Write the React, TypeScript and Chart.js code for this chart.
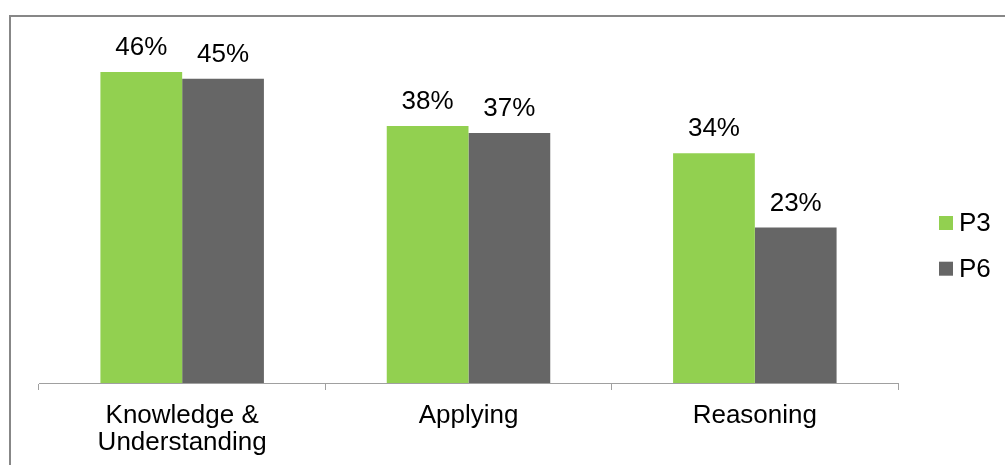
import React, { useEffect, useRef } from "react";
import { Chart, registerables } from "chart.js";

Chart.register(...registerables);

// Categories (multi-line labels are arrays of lines)
const categories: (string | string[])[] = [
  ["Knowledge &", "Understanding"],
  "Applying",
  "Reasoning",
];

// Series values, in percent
const seriesNames = ["P3", "P6"];
const p3Values = [46, 38, 34];
const p6Values = [45, 37, 23];

const seriesColors = ["#92D050", "#666666"];

const FONT_FAMILY = "'Liberation Sans', Arial, sans-serif";
const FONT_SIZE = 26;

// Value labels above each bar
const valueLabels = {
  id: "valueLabels",
  afterDatasetsDraw(chart: Chart) {
    const ctx = chart.ctx;
    ctx.save();
    ctx.font = `${FONT_SIZE}px ${FONT_FAMILY}`;
    ctx.fillStyle = "#000000";
    ctx.textAlign = "center";
    ctx.textBaseline = "alphabetic";
    chart.data.datasets.forEach((ds, di) => {
      const meta = chart.getDatasetMeta(di);
      meta.data.forEach((el: any, i: number) => {
        const v = ds.data[i] as number;
        ctx.fillText(`${v}%`, el.x, el.y - 17);
      });
    });
    ctx.restore();
  },
};

// Legend at the right: square swatch followed by the series name
const sideLegend = {
  id: "sideLegend",
  afterDraw(chart: Chart) {
    const ctx = chart.ctx;
    const boxX = 939;
    const box = 14;
    const firstY = 223;
    const step = 45.7;
    ctx.save();
    ctx.font = `${FONT_SIZE}px ${FONT_FAMILY}`;
    ctx.textAlign = "left";
    ctx.textBaseline = "middle";
    chart.data.datasets.forEach((ds, i) => {
      const cy = firstY + i * step;
      ctx.fillStyle = ds.backgroundColor as string;
      ctx.fillRect(boxX, cy - box / 2, box, box);
      ctx.fillStyle = "#000000";
      ctx.fillText(ds.label as string, boxX + 20, cy + 1);
    });
    ctx.restore();
  },
};

export default function App() {
  const canvasRef = useRef<HTMLCanvasElement | null>(null);

  useEffect(() => {
    if (!canvasRef.current) return;
    const chart = new Chart(canvasRef.current, {
      type: "bar",
      data: {
        labels: categories,
        datasets: [
          {
            label: seriesNames[0],
            data: p3Values,
            backgroundColor: seriesColors[0],
            borderWidth: 0,
          },
          {
            label: seriesNames[1],
            data: p6Values,
            backgroundColor: seriesColors[1],
            borderWidth: 0,
          },
        ],
      },
      options: {
        responsive: false,
        animation: false,
        devicePixelRatio: 1,
        layout: {
          padding: { left: 39, right: 107, top: 45, bottom: 0 },
        },
        datasets: {
          bar: {
            categoryPercentage: 0.571,
            barPercentage: 1,
          },
        },
        plugins: {
          legend: { display: false },
          tooltip: { enabled: false },
        },
        scales: {
          x: {
            grid: {
              offset: true,
              drawOnChartArea: false,
              drawTicks: true,
              tickLength: 7,
              color: "#A0A0A0",
              lineWidth: 1,
            },
            border: { display: true, color: "#A0A0A0", width: 1 },
            ticks: {
              color: "#000000",
              padding: 13,
              maxRotation: 0,
              autoSkip: false,
              font: { family: FONT_FAMILY, size: FONT_SIZE, lineHeight: 1.02 },
            },
            afterFit(scale: any) {
              scale.height = 82;
            },
          },
          y: {
            display: false,
            min: 0,
            max: 50,
          },
        },
      },
      plugins: [valueLabels, sideLegend],
    });
    return () => chart.destroy();
  }, []);

  return (
    <div
      style={{
        position: "fixed",
        left: 0,
        top: 0,
        width: 1005,
        height: 465,
        overflow: "hidden",
        background: "#ffffff",
      }}
    >
      <div
        style={{
          position: "absolute",
          left: 9,
          top: 15,
          width: 1200,
          height: 700,
          border: "2px solid #878787",
        }}
      />
      <canvas
        ref={canvasRef}
        width={1005}
        height={465}
        style={{ position: "absolute", left: 0, top: 0, display: "block" }}
      />
    </div>
  );
}
